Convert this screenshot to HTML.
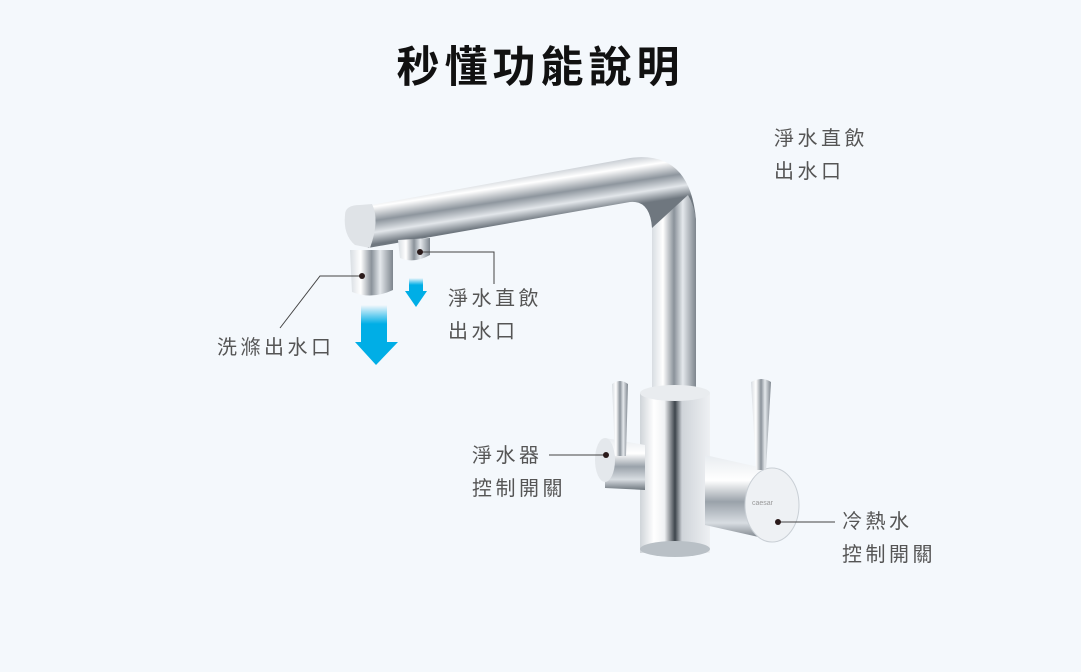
<!DOCTYPE html>
<html><head><meta charset="utf-8"><style>
html,body{margin:0;padding:0;}
body{width:1081px;height:672px;background:#f4f8fc;position:relative;overflow:hidden;font-family:"Liberation Sans","Noto Sans CJK TC",sans-serif;}
.t{position:absolute;color:#555;font-size:20px;letter-spacing:3.5px;line-height:33px;white-space:nowrap;}
h1{position:absolute;top:33px;left:0;width:1081px;text-align:center;margin:0;font-size:43px;font-weight:bold;color:#111;letter-spacing:5px;}
</style></head><body>
<h1>秒懂功能說明</h1>
<svg width="1081" height="672" style="position:absolute;left:0;top:0">
<defs>
<linearGradient id="h" gradientUnits="userSpaceOnUse" x1="500" y1="178" x2="507" y2="224">
<stop offset="0" stop-color="#c9ced4"/><stop offset=".2" stop-color="#fff"/><stop offset=".5" stop-color="#8e969e"/><stop offset=".75" stop-color="#e2e6ea"/><stop offset="1" stop-color="#6f777f"/></linearGradient>
<linearGradient id="h2" x1="0" y1="0" x2="0" y2="1">
<stop offset="0" stop-color="#e8ecf0"/><stop offset=".3" stop-color="#fff"/><stop offset=".55" stop-color="#9aa2aa"/><stop offset=".8" stop-color="#d8dde2"/><stop offset="1" stop-color="#6f777f"/></linearGradient>
<linearGradient id="v" x1="0" y1="0" x2="1" y2="0">
<stop offset="0" stop-color="#d8dde2"/><stop offset=".25" stop-color="#fff"/><stop offset=".5" stop-color="#8a929a"/><stop offset=".7" stop-color="#e4e8ec"/><stop offset="1" stop-color="#7d858d"/></linearGradient>
<linearGradient id="b" x1="0" y1="0" x2="1" y2="0">
<stop offset="0" stop-color="#cfd4d9"/><stop offset=".2" stop-color="#fff"/><stop offset=".35" stop-color="#f0f2f4"/><stop offset=".5" stop-color="#3e454c"/><stop offset=".6" stop-color="#cfd4d9"/><stop offset="1" stop-color="#eef0f3"/></linearGradient>
<linearGradient id="ar" x1="0" y1="0" x2="0" y2="1">
<stop offset="0" stop-color="#00aee6" stop-opacity="0"/><stop offset=".5" stop-color="#00aee6"/><stop offset="1" stop-color="#00aee6"/></linearGradient>
</defs>
<!-- spout horizontal -->
<path d="M355 208 L630 158 Q690 150 696 220 L696 400 L652 400 L652 228 Q650 200 630 202 L368 248 Z" fill="url(#h)"/>
<path d="M652 228 L652 400 L696 400 L696 220 Q694 205 688 195 Z" fill="url(#v)"/>
<path d="M345 215 Q345 205 360 205 L372 204 Q380 220 370 248 L355 245 Q343 235 345 215Z" fill="#dfe3e7"/>
<!-- nozzles -->
<path d="M350 250 L393 250 L393 290 Q372 300 352 292 Z" fill="url(#v)"/>
<path d="M398 240 L430 238 L430 255 Q414 264 400 258 Z" fill="url(#v)"/>
<!-- body -->
<rect x="640" y="393" width="70" height="160" fill="url(#b)"/>
<ellipse cx="675" cy="549" rx="35" ry="8" fill="#b9c0c6"/>
<ellipse cx="675" cy="393" rx="35" ry="8" fill="#e9ecef"/>
<!-- left cylinder -->
<path d="M605 438 L645 445 L645 490 L605 488 Z" fill="url(#h2)"/>
<ellipse cx="605" cy="460" rx="10" ry="22" fill="#e4e8ec"/>
<!-- right cylinder -->
<path d="M705 455 L772 470 L772 540 L705 525 Z" fill="url(#h2)"/>
<ellipse cx="772" cy="505" rx="27" ry="37" fill="#eef1f4" stroke="#c9cfd5"/>
<text x="752" y="505" font-size="7" fill="#999" font-family="Liberation Sans">caesar</text>
<!-- levers -->
<path d="M612 384 Q620 378 628 384 L626 456 L615 456 Z" fill="url(#v)"/>
<path d="M751 382 Q762 376 771 382 L766 470 L756 470 Z" fill="url(#v)"/>
<!-- arrows -->
<rect x="361" y="305" width="26" height="38" fill="url(#ar)"/>
<path d="M355 342 L398 342 L376 365 Z" fill="#00aee6"/>
<rect x="409" y="278" width="14" height="14" fill="url(#ar)"/>
<path d="M405 291 L427 291 L416 307 Z" fill="#00aee6"/>
<!-- leaders -->
<g stroke="#444" stroke-width="1" fill="none">
<path d="M362 276 L320 276 L280 328"/>
<path d="M420 252 L494 252 L494 284"/>
<path d="M549 455 L605 455"/>
<path d="M778 522 L835 522"/>
</g>
<g fill="#2a1a1a"><circle cx="362" cy="276" r="3"/><circle cx="420" cy="252" r="3"/><circle cx="606" cy="455" r="3"/><circle cx="778" cy="522" r="3"/></g>
</svg>
<div class="t" style="left:774px;top:123px">淨水直飲<br>出水口</div>
<div class="t" style="left:448px;top:283px">淨水直飲<br>出水口</div>
<div class="t" style="left:217px;top:332px">洗滌出水口</div>
<div class="t" style="left:472px;top:440px">淨水器<br>控制開關</div>
<div class="t" style="left:842px;top:506px">冷熱水<br>控制開關</div>
</body></html>
